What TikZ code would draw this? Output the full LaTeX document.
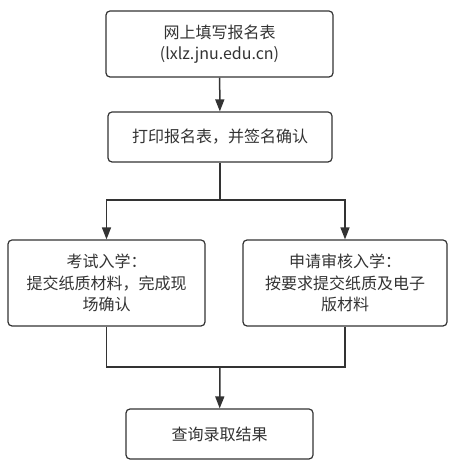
\documentclass[tikz,border=0pt]{standalone}
\usepackage{fontspec}
\setmainfont{Noto Sans CJK SC}
\usetikzlibrary{arrows.meta, positioning, calc}
\definecolor{flowline}{HTML}{333333}
\definecolor{flowtext}{HTML}{333333}

\begin{document}
\begin{tikzpicture}[x=1pt, y=1pt,
    pbox/.style={rectangle, rounded corners=4pt, draw=flowline, line width=1.2pt, fill=white,
                 inner sep=0pt, align=center, text=flowtext, font=\fontsize{16}{21.5}\selectfont},
    link/.style={draw=flowline, line width=1.5pt},
    arr/.style={link, -{Triangle[length=12pt, width=9pt]}}
]
\useasboundingbox (0,0) rectangle (455,468);

\node[pbox, minimum width=227pt, minimum height=66pt] (apply)  at (219.5,424) {网上填写报名表\\(lxlz.jnu.edu.cn)};
\node[pbox, minimum width=224pt, minimum height=50pt] (print)  at (220,331)   {打印报名表，并签名确认};
\node[pbox, minimum width=197pt, minimum height=86pt] (exam)   at (106.5,185) {考试入学：\\提交纸质材料，完成现\\场确认};
\node[pbox, minimum width=204pt, minimum height=86pt] (review) at (345,185)   {申请审核入学：\\按要求提交纸质及电子\\版材料};
\node[pbox, minimum width=187pt, minimum height=50pt] (result) at (219.5,34)  {查询录取结果};

\coordinate (split) at (220,268);
\coordinate (merge) at (220,101);

\draw[arr]  (apply) -- (print);
\draw[link] (print) -- (split);
\draw[arr]  (split) -| (exam);
\draw[arr]  (split) -| (review);
\draw[link] (exam) |- (merge);
\draw[link] (review) |- (merge);
\draw[arr]  (merge) -- (result);
\end{tikzpicture}
\end{document}
